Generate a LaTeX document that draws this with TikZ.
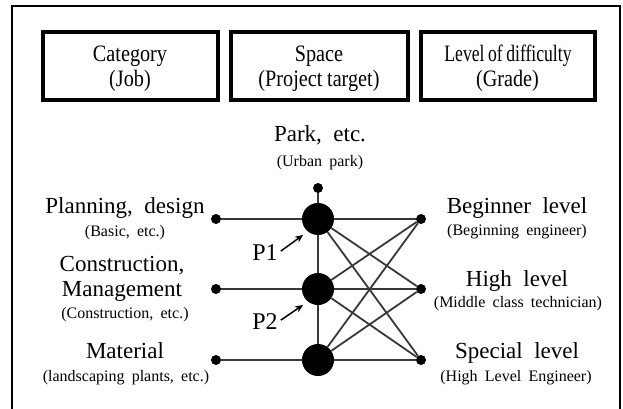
\documentclass[tikz,border=0pt]{standalone}
\usepackage{fontspec}
\setmainfont{Liberation Serif}
\newfontfamily\boxfont[FakeStretch=0.86]{Liberation Serif}
\newfontfamily\boxfontnarrow[FakeStretch=0.75]{Liberation Serif}
\usetikzlibrary{arrows.meta}

\tikzset{
  headbox/.style={draw, line width=4pt, inner sep=0pt, minimum height=67.5pt},
  headtext/.style={inner sep=0pt, anchor=base,
    font={\boxfont\fontsize{23.5}{25}\selectfont\spaceskip=0.2em\relax}},
  bigdot/.style={circle, fill=black, inner sep=0pt, minimum size=32pt},
  smalldot/.style={circle, fill=black, inner sep=0pt, minimum size=10pt},
  wire/.style={line width=1.8pt, draw=black!78},
  mainlabel/.style={inner sep=0pt, anchor=base,
    font={\fontsize{23}{25}\selectfont\spaceskip=0.5em\relax}},
  sublabel/.style={inner sep=0pt, anchor=base,
    font={\fontsize{16}{17}\selectfont\spaceskip=0.45em\relax}},
  ptr/.style={line width=1.5pt, -{Stealth[length=8pt,width=7pt]}},
}

\begin{document}
\begin{tikzpicture}[x=1pt,y=-1pt]
\useasboundingbox (0,0) rectangle (623,409);

% outer frame, open at the bottom
\draw[line width=2.5pt] (12,409) -- (12,6) -- (620,6) -- (620,409);

% heading boxes
\node[headbox, minimum width=175pt] (cat) at (130,66.25) {};
\node[headbox, minimum width=177pt] (spc) at (319,66.25) {};
\node[headbox, minimum width=174pt] (lvl) at (507.5,66.25) {};

\node[headtext] (catA) at (130,62) {Category};
\node[headtext] (catB) at (130,87) {(Job)};
\node[headtext] (spcA) at (319,62) {Space};
\node[headtext] (spcB) at (319,87) {(Project target)};
\node[headtext, font={\boxfontnarrow\fontsize{23.5}{25}\selectfont\spaceskip=0.15em\relax}]
  (lvlA) at (508,62) {Level of difficulty};
\node[headtext] (lvlB) at (507.5,87) {(Grade)};

% space column
\node[mainlabel] (park) at (320,141) {Park, etc.};
\node[sublabel] (urban) at (320,166) {(Urban park)};

\node[smalldot] (t) at (318,188) {};
\node[bigdot] (s1) at (318,219) {};
\node[bigdot] (s2) at (318,289) {};
\node[bigdot] (s3) at (318,360) {};

% category dots
\node[smalldot] (l1) at (216,219) {};
\node[smalldot] (l2) at (216,289) {};
\node[smalldot] (l3) at (216,360) {};

% level dots
\node[smalldot] (r1) at (421,219) {};
\node[smalldot] (r2) at (421,289) {};
\node[smalldot] (r3) at (421,360) {};

% connectors
\draw[wire] (t) -- (s1);
\draw[wire] (s1) -- (s2);
\draw[wire] (s2) -- (s3);
\draw[wire] (l1) -- (s1);
\draw[wire] (l2) -- (s2);
\draw[wire] (l3) -- (s3);
\foreach \i in {1,2,3}{
  \foreach \j in {1,2,3}{
    \draw[wire] (s\i) -- (r\j);
  }
}

% category labels
\node[mainlabel] (pd) at (125,213) {Planning, design};
\node[sublabel] (pdsub) at (125,236) {(Basic, etc.)};
\node[mainlabel] (cm1) at (122,271) {Construction,};
\node[mainlabel] (cm2) at (122,296) {Management};
\node[sublabel] (cmsub) at (125,318) {(Construction, etc.)};
\node[mainlabel] (mat) at (125,358) {Material};
\node[sublabel] (matsub) at (126,381) {(landscaping plants, etc.)};

% level labels
\node[mainlabel] (bg) at (517,213) {Beginner level};
\node[sublabel] (bgsub) at (517,235) {(Beginning engineer)};
\node[mainlabel] (hi) at (517,286) {High level};
\node[sublabel] (hisub) at (518,307) {(Middle class technician)};
\node[mainlabel] (sp) at (517,358) {Special level};
\node[sublabel] (spsub) at (516,381) {(High Level Engineer)};

% pointers to the nodes
\node[mainlabel, font=\fontsize{24}{25}\selectfont] (p1) at (265,260) {P1};
\node[mainlabel, font=\fontsize{24}{25}\selectfont] (p2) at (265,329) {P2};
\coordinate (p1tip) at (303,235);
\coordinate (p2tip) at (303,305);
\draw[ptr] ([xshift=3pt,yshift=1pt]p1.east) -- (p1tip);
\draw[ptr] ([xshift=3pt,yshift=1pt]p2.east) -- (p2tip);
\end{tikzpicture}
\end{document}
